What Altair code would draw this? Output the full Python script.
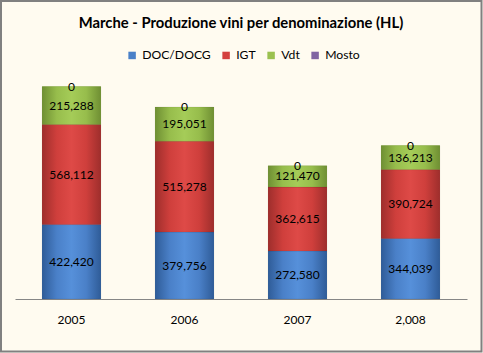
import altair as alt
import pandas as pd

years = ["2005", "2006", "2007", "2,008"]
series = ["DOC/DOCG", "IGT", "Vdt", "Mosto"]
doc = [422420, 379756, 272580, 344039]
igt = [568112, 515278, 362615, 390724]
vdt = [215288, 195051, 121470, 136213]
mosto = [0, 0, 0, 0]

colors = ["#4A80C8", "#D4403D", "#9BC150", "#8064A2"]
grad_stops = {
    "DOC/DOCG": ["#2F5C98", "#4A80C8", "#5690DA", "#4A80C8", "#2F5C98"],
    "IGT": ["#9E2E2C", "#CF3F3C", "#DE4A47", "#CF3F3C", "#9E2E2C"],
    "Vdt": ["#6F8F33", "#97BD4C", "#A5CC58", "#97BD4C", "#6F8F33"],
}

rows = []
for i, y in enumerate(years):
    for k, (s, vals) in enumerate(zip(series, [doc, igt, vdt, mosto])):
        rows.append({"year": y, "series": s, "order": k, "value": vals[i]})
df = pd.DataFrame(rows)

FONT = "Lato"

base = alt.Chart(df).transform_stack(
    stack="value", groupby=["year"], as_=["y0", "y1"],
    sort=[alt.SortField("order", order="ascending")]
)

xenc = alt.X(
    "year:N", sort=years,
    scale=alt.Scale(paddingInner=0.48, paddingOuter=0.24),
    axis=alt.Axis(title=None, labelAngle=0, ticks=False, domainColor="#868686",
                  domainWidth=1, labelPadding=15, labelFontSize=12, labelFont=FONT,
                  labelColor="#000000"),
)
yscale = alt.Scale(domain=[0, 1300000])

legend_bars = base.mark_bar().encode(
    x=xenc,
    y=alt.Y("y0:Q", scale=yscale, axis=None),
    y2="y1:Q",
    color=alt.Color(
        "series:N",
        scale=alt.Scale(domain=series, range=colors),
        legend=alt.Legend(
            title=None, orient="none", direction="horizontal",
            legendX=111, legendY=-21, symbolType="square", symbolSize=56,
            symbolStrokeWidth=0, labelFont=FONT, labelFontSize=12.2,
            labelColor="#000000", columnPadding=9, labelOffset=4,
        ),
    ),
)

layers = [legend_bars]
for s, st in grad_stops.items():
    n = len(st)
    grad = alt.Gradient(
        gradient="linear", x1=0, y1=0, x2=1, y2=0,
        stops=[alt.GradientStop(offset=j / (n - 1), color=c) for j, c in enumerate(st)],
    )
    layers.append(
        base.transform_filter(alt.datum.series == s)
        .mark_bar(fill=grad, stroke="#00000022", strokeWidth=0.5)
        .encode(x=xenc, y=alt.Y("y0:Q", scale=yscale, axis=None), y2="y1:Q")
    )

labels = base.transform_calculate(mid="(datum.y0 + datum.y1) / 2").mark_text(
    font=FONT, fontSize=12, color="#000000"
).encode(
    x=xenc,
    y=alt.Y("mid:Q", scale=yscale, axis=None),
    text=alt.Text("value:Q", format=","),
)
layers.append(labels)

border = alt.Chart(pd.DataFrame({"k": [0]})).mark_rect(
    fill="transparent", stroke="#808080", strokeWidth=2
).encode(
    x=alt.value(-14), x2=alt.value(466.5), y=alt.value(-69), y2=alt.value(281.5)
)
layers.append(border)

chart = alt.layer(*layers).properties(
    width=452, height=229,
    autosize=alt.AutoSizeParams(type="none"),
    padding={"left": 15, "top": 70, "right": 16, "bottom": 54},
    title=alt.TitleParams(
        "Marche - Produzione vini per denominazione (HL)",
        font=FONT, fontSize=14.8, fontWeight="bold", color="#000000",
        anchor="middle", offset=-31,
    ),
).configure(background="#FFFBF0").configure_view(stroke="transparent")

chart.save("out.html", embed_options={"renderer": "svg", "actions": False})
